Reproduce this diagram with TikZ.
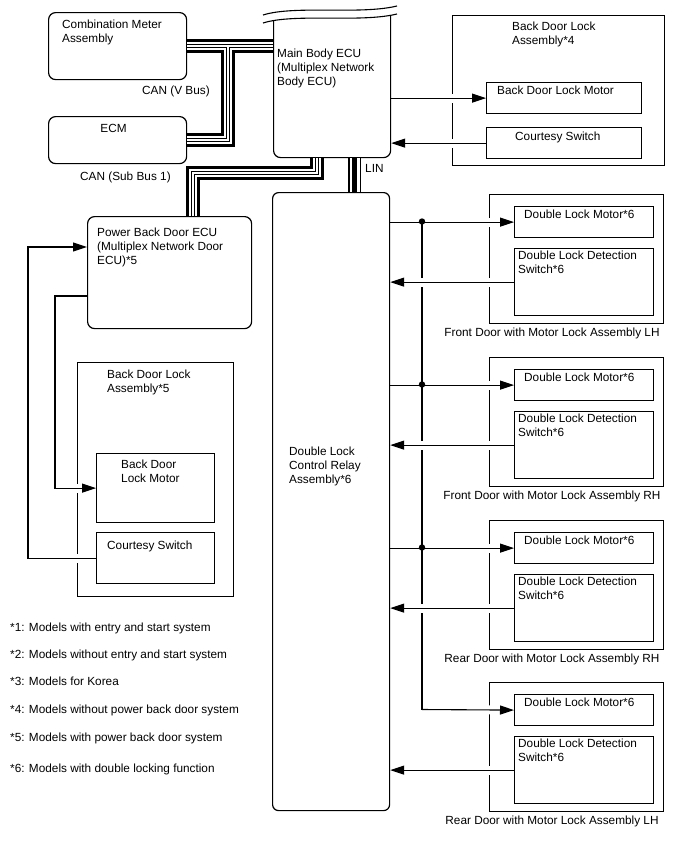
\documentclass[tikz,border=0pt]{standalone}
\usepackage{fontspec}
\setmainfont{Liberation Sans}
\usetikzlibrary{arrows.meta, positioning}

% bus bundles drawn in layers so that joints stay clean
\newcommand\canbus[1]{%
  \draw[line width=14pt] #1;
  \draw[line width=8pt, white] #1;
  \draw[line width=4.6pt] #1;
  \draw[line width=2.4pt, white] #1;}
\newcommand\linbus[1]{%
  \draw[line width=12.5pt] #1;
  \draw[line width=10pt, white] #1;
  \draw[line width=4.5pt] #1;}

\begin{document}
\begin{tikzpicture}[
  x=1pt, y=-1pt,
  ecu/.style={rectangle, rounded corners=7pt, draw, line width=1.2pt, inner sep=0, anchor=north west},
  box/.style={rectangle, draw, line width=1.2pt, inner sep=0, anchor=north west},
  txt/.style={inner sep=0, align=left, font=\fontsize{11.8}{14}\selectfont},
  wire/.style={line width=1.1pt},
  arr/.style={-{Triangle[length=14pt, width=9pt]}, line width=1.1pt},
  crossgap/.style={preaction={draw=white, line width=9pt, shorten <=9pt, shorten >=10pt, arrows=-}}
]
  \useasboundingbox[fill=white] (0,0) rectangle (688,852);

  % control units
  \node[ecu, minimum width=138pt, minimum height=67pt] (cm) at (48,12) {};
  \node[ecu, minimum width=138pt, minimum height=47pt] (ecm) at (48,116) {};
  \node[ecu, minimum width=117pt, minimum height=152pt] (mainecu) at (273,5) {};
  \node[ecu, minimum width=164pt, minimum height=112pt] (pbd) at (87,216) {};
  \node[ecu, rounded corners=6pt, minimum width=117pt, minimum height=618pt] (relay) at (272,192) {};

  % broken top of the main body ECU
  \fill[white] (262,0) -- (262,23) .. controls (295,13) and (360,23) .. (398,14) -- (398,0) -- cycle;
  \draw[wire] (263,15) .. controls (295,5) and (360,15) .. (397,6);
  \draw[wire] (263,23) .. controls (295,13) and (360,23) .. (397,14);

  % back door lock (top right)
  \node[box, minimum width=212pt, minimum height=150pt] (bda4) at (452,15) {};
  \node[box, minimum width=155pt, minimum height=31pt, below right=67pt and 34pt of bda4.north west] (bdm4) {};
  \node[box, minimum width=155pt, minimum height=31pt, below right=112pt and 34pt of bda4.north west] (cs4) {};

  % back door lock (left)
  \node[box, minimum width=156pt, minimum height=234pt] (bda5) at (77,362) {};
  \node[box, minimum width=118pt, minimum height=69pt, below right=91pt and 19pt of bda5.north west] (bdm5) {};
  \node[box, minimum width=118pt, minimum height=51pt, below right=170pt and 19pt of bda5.north west] (cs5) {};

  % door lock assemblies
  \node[box, minimum width=174pt, minimum height=129pt] (door1) at (489,194) {};
  \node[box, minimum width=174pt, minimum height=129pt] (door2) at (489,357) {};
  \node[box, minimum width=174pt, minimum height=129pt] (door3) at (489,520) {};
  \node[box, minimum width=174pt, minimum height=129pt] (door4) at (489,682) {};
  \node[box, minimum width=139pt, minimum height=31pt, below right=12pt and 25pt of door1.north west] (dlm1) {};
  \node[box, minimum width=139pt, minimum height=31pt, below right=12pt and 25pt of door2.north west] (dlm2) {};
  \node[box, minimum width=139pt, minimum height=31pt, below right=12pt and 25pt of door3.north west] (dlm3) {};
  \node[box, minimum width=139pt, minimum height=31pt, below right=12pt and 25pt of door4.north west] (dlm4) {};
  \node[box, minimum width=139pt, minimum height=67pt, below right=54pt and 25pt of door1.north west] (dls1) {};
  \node[box, minimum width=139pt, minimum height=67pt, below right=54pt and 25pt of door2.north west] (dls2) {};
  \node[box, minimum width=139pt, minimum height=67pt, below right=54pt and 25pt of door3.north west] (dls3) {};
  \node[box, minimum width=139pt, minimum height=67pt, below right=54pt and 25pt of door4.north west] (dls4) {};

  % texts
  \node[txt, below right=8pt and 14pt of cm.north west] (cm-t) {Combination Meter\\Assembly};
  \node[txt, below=8pt of ecm.north, xshift=-4pt] (ecm-t) {ECM};
  \node[txt, anchor=north west] (main-t) at (277,49) {Main Body ECU\\(Multiplex Network\\Body ECU)};
  \node[txt, below right=12pt and 10pt of pbd.north west] (pbd-t) {Power Back Door ECU\\(Multiplex Network Door\\ECU)*5};
  \node[txt, anchor=north west] (relay-t) at (289,447) {Double Lock\\Control Relay\\Assembly*6};
  \node[txt, below right=7pt and 60pt of bda4.north west] (bda4-t) {Back Door Lock\\Assembly*4};
  \node[txt, below right=4pt and 11pt of bdm4.north west] (bdm4-t) {Back Door Lock Motor};
  \node[txt, below right=5pt and 29pt of cs4.north west] (cs4-t) {Courtesy Switch};
  \node[txt, below right=8pt and 30pt of bda5.north west] (bda5-t) {Back Door Lock\\Assembly*5};
  \node[txt, below right=7pt and 25pt of bdm5.north west] (bdm5-t) {Back Door\\Lock Motor};
  \node[txt, below right=9pt and 11pt of cs5.north west] (cs5-t) {Courtesy Switch};
  \node[txt, below right=4pt and 10pt of dlm1.north west] (dlm1-t) {Double Lock Motor*6};
  \node[txt, below right=4pt and 10pt of dlm2.north west] (dlm2-t) {Double Lock Motor*6};
  \node[txt, below right=4pt and 10pt of dlm3.north west] (dlm3-t) {Double Lock Motor*6};
  \node[txt, below right=4pt and 10pt of dlm4.north west] (dlm4-t) {Double Lock Motor*6};
  \node[txt, below right=3pt and 4pt of dls1.north west] (dls1-t) {Double Lock Detection\\Switch*6};
  \node[txt, below right=3pt and 4pt of dls2.north west] (dls2-t) {Double Lock Detection\\Switch*6};
  \node[txt, below right=3pt and 4pt of dls3.north west] (dls3-t) {Double Lock Detection\\Switch*6};
  \node[txt, below right=3pt and 4pt of dls4.north west] (dls4-t) {Double Lock Detection\\Switch*6};
  \node[txt, anchor=north] (door1-t) at (552,328) {Front Door with Motor Lock Assembly LH};
  \node[txt, anchor=north] (door2-t) at (552,491) {Front Door with Motor Lock Assembly RH};
  \node[txt, anchor=north] (door3-t) at (552,654) {Rear Door with Motor Lock Assembly RH};
  \node[txt, anchor=north] (door4-t) at (552,816) {Rear Door with Motor Lock Assembly LH};
  \node[txt, anchor=north west] (vbus-t) at (142,86) {CAN (V Bus)};
  \node[txt, anchor=north west] (sbus-t) at (80,172) {CAN (Sub Bus 1)};
  \node[txt, anchor=north west] (lin-t) at (365,164) {LIN};

  % notes
  \node[txt, anchor=north west] (fn1) at (10,623) {*1: Models with entry and start system};
  \node[txt, anchor=north west] (fn2) at (10,650) {*2: Models without entry and start system};
  \node[txt, anchor=north west] (fn3) at (10,677) {*3: Models for Korea};
  \node[txt, anchor=north west] (fn4) at (10,705) {*4: Models without power back door system};
  \node[txt, anchor=north west] (fn5) at (10,733) {*5: Models with power back door system};
  \node[txt, anchor=north west] (fn6) at (10,764) {*6: Models with double locking function};

  % buses
  \coordinate (vbus) at (228,45.5);
  \coordinate (sbend) at (193,173);
  \coordinate (lin) at ([xshift=22.5pt]mainecu.south);
  \canbus{(cm.east) -- (cm.east -| mainecu.west) (vbus) |- (ecm.east)}
  \canbus{([xshift=-15pt]mainecu.south) |- (sbend) -- (sbend |- pbd.north)}
  \linbus{(lin) -- (lin |- relay.north)}

  % back door wiring
  \draw[arr, crossgap] (mainecu.east |- bdm4.west) -- (bdm4.west);
  \draw[arr, crossgap] (cs4.west) -- (cs4.west -| mainecu.east);
  \coordinate (pbdin) at ([yshift=-31pt]pbd.north west);
  \coordinate (pbdout) at ([yshift=-80pt]pbd.north west);
  \draw[arr, crossgap] (cs5.west) -- ++(-68,0) |- (pbdin);
  \draw[arr, crossgap] (pbdout) -- ++(-32,0) |- (bdm5.west);

  % door lock wiring
  \coordinate (j1) at (422,221.5);
  \coordinate (j2) at (422,384.5);
  \coordinate (j3) at (422,547.5);
  \coordinate (j4) at (422,709.5);
  \draw[arr, crossgap] (relay.east |- dlm1.west) -- (dlm1.west);
  \draw[arr, crossgap] (relay.east |- dlm2.west) -- (dlm2.west);
  \draw[arr, crossgap] (relay.east |- dlm3.west) -- (dlm3.west);
  \draw[wire, line cap=rect] (j1) -- (j4);
  \draw[arr, crossgap] (j4) -- (dlm4.west);
  \draw[arr, crossgap] (dls1.west) -- (dls1.west -| relay.east);
  \draw[arr, crossgap] (dls2.west) -- (dls2.west -| relay.east);
  \draw[arr, crossgap] (dls3.west) -- (dls3.west -| relay.east);
  \draw[arr, crossgap] (dls4.west) -- (dls4.west -| relay.east);
  \fill (j1) circle (3.2pt);
  \fill (j2) circle (3.2pt);
  \fill (j3) circle (3.2pt);
\end{tikzpicture}
\end{document}
